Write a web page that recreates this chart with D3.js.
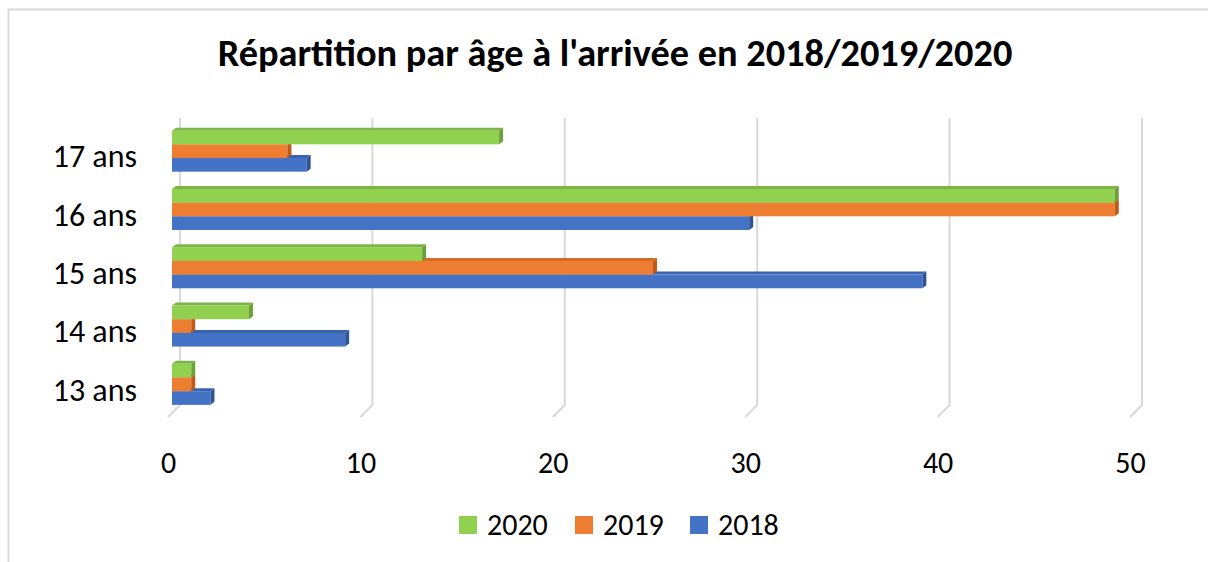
<!DOCTYPE html>
<html>
<head>
<meta charset="utf-8">
<script src="https://cdn.jsdelivr.net/npm/d3@7"></script>
<style>
  html, body { margin: 0; padding: 0; background: #fff; }
  svg { display: block; font-family: Carlito, Lato, "Open Sans", sans-serif; }
</style>
</head>
<body>
<svg id="chart" width="1208" height="562"></svg>
<script>
const categories = ["17 ans", "16 ans", "15 ans", "14 ans", "13 ans"];
const years = ["2020", "2019", "2018"];
const values2018 = [7, 30, 39, 9, 2];
const values2019 = [6, 49, 25, 1, 1];
const values2020 = [17, 49, 13, 4, 1];
const xTicks = [0, 10, 20, 30, 40, 50];
const title = "Répartition par âge à l'arrivée en 2018/2019/2020";

const series = { "2018": values2018, "2019": values2019, "2020": values2020 };
const front = { "2018": "#4472c4", "2019": "#ed7d31", "2020": "#92d050" };
const side = { "2018": "#2f5597", "2019": "#c05a1a", "2020": "#6d9f3a" };
const top_ = { "2018": "#3a63ad", "2019": "#d36c27", "2020": "#7cb447" };

const svg = d3.select("#chart");
const dx = 4, dy = 3; // bar depth

// frame
svg.append("line").attr("x1", 8).attr("x2", 1208).attr("y1", 9.5).attr("y2", 9.5)
  .attr("stroke", "#d9d9d9").attr("stroke-width", 2);
svg.append("line").attr("x1", 8.5).attr("x2", 8.5).attr("y1", 9).attr("y2", 562)
  .attr("stroke", "#d9d9d9").attr("stroke-width", 2);

const x = d3.scaleLinear().domain([0, 50]).range([172, 1134]);
const y = d3.scaleBand().domain(categories).range([122, 413.5])
  .paddingInner(0.296).paddingOuter(0.148);
const yInner = d3.scaleBand().domain(years).range([0, y.bandwidth()]);

// gridlines (back wall + floor)
const wallTop = 118, wallBottom = 405, floorFront = 417;
const grid = svg.append("g").attr("stroke", "#d9d9d9").attr("stroke-width", 2).attr("fill", "none");
grid.selectAll("path").data(xTicks).enter().append("path")
  .attr("d", d => `M${x(d) + 8},${wallTop}V${wallBottom}L${x(d) - 4},${floorFront}`);

// x labels
const xAxis = svg.append("g").attr("transform", `translate(-4,${floorFront})`)
  .call(d3.axisBottom(x).tickValues(xTicks).tickSize(0).tickPadding(35));
xAxis.select(".domain").remove();
xAxis.selectAll("text").attr("font-size", 30).attr("fill", "#000")
  .attr("font-family", "Carlito, Lato, sans-serif");

// category labels
const yAxis = svg.append("g").attr("transform", "translate(137,6)")
  .call(d3.axisLeft(y).tickSize(0).tickPadding(0));
yAxis.select(".domain").remove();
yAxis.selectAll("text").attr("font-size", 32).attr("fill", "#000")
  .attr("font-family", "Carlito, Lato, sans-serif");

// bars, drawn bottom to top so upper bars cover the lower top faces
const bars = svg.append("g");
["2018", "2019", "2020"].forEach(yr => {
  const g = bars.append("g");
  categories.forEach((c, i) => {
    const v = series[yr][i];
    const x0 = x(0), x1 = x(v);
    const y0 = y(c) + yInner(yr), h = yInner.bandwidth();
    g.append("path")
      .attr("d", `M${x0},${y0}L${x0 + dx},${y0 - dy}L${x1 + dx},${y0 - dy}L${x1},${y0}Z`)
      .attr("fill", top_[yr]);
    g.append("rect").attr("x", x0).attr("y", y0).attr("width", x1 - x0).attr("height", h)
      .attr("fill", front[yr]);
    g.append("path")
      .attr("d", `M${x1},${y0}L${x1 + dx},${y0 - dy}L${x1 + dx},${y0 + h - dy}L${x1},${y0 + h}Z`)
      .attr("fill", side[yr]);
  });
});

// title
const t = svg.append("text").attr("x", 615).attr("y", 66).attr("text-anchor", "middle")
  .attr("font-weight", "bold").attr("font-size", 36).attr("fill", "#000").text(title);
const tw = t.node().getComputedTextLength();
t.attr("font-size", 36 * 795 / tw);

// legend
const legendX = [459, 575, 690];
const legend = svg.append("g").selectAll("g").data(years).enter().append("g")
  .attr("transform", (d, i) => `translate(${legendX[i]},516)`);
legend.append("rect").attr("width", 18).attr("height", 18).attr("fill", d => front[d]);
legend.append("text").attr("x", 28).attr("y", 19).attr("font-size", 30).attr("fill", "#000").text(d => d);
</script>
</body>
</html>
